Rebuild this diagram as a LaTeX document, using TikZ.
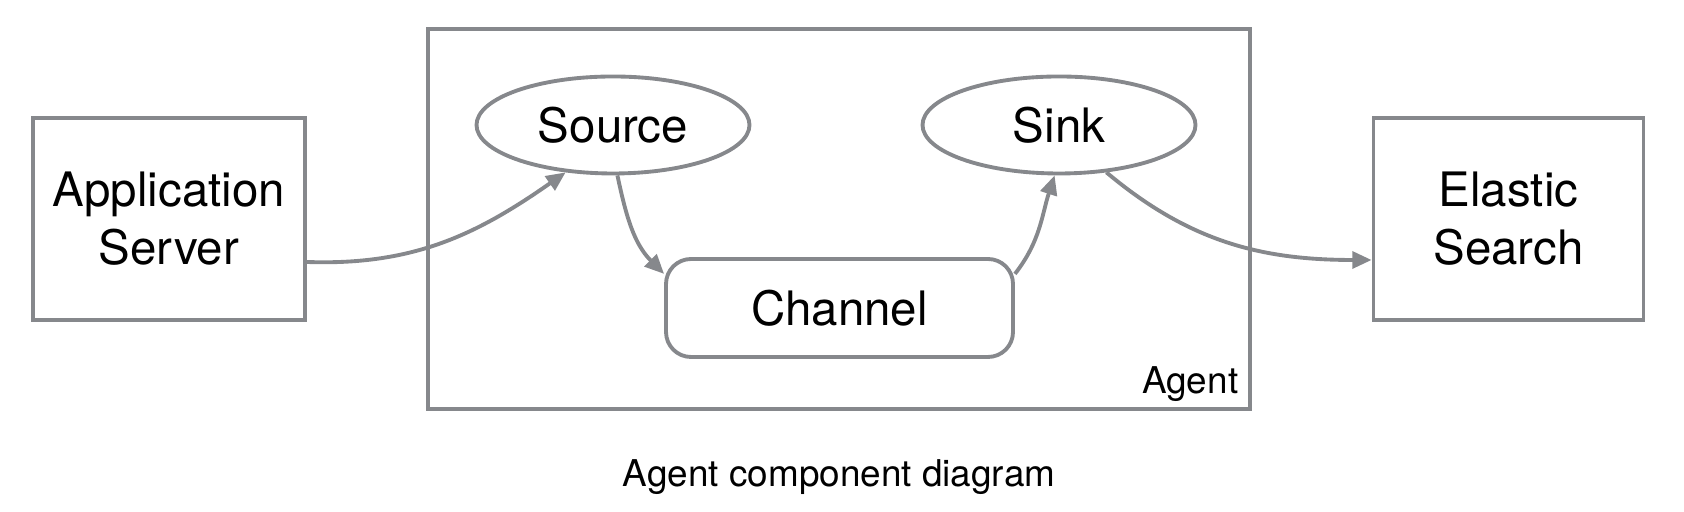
\documentclass[tikz,border=0pt]{standalone}
\usepackage{fontspec}
\setmainfont{TeX Gyre Heros}
\usepackage{tikz}
\usetikzlibrary{arrows.meta,shapes.geometric}
\definecolor{linegray}{RGB}{134,136,140}
\tikzset{
	box/.style={draw=linegray, line width=1.1pt, inner sep=0pt, align=center, font=\fontsize{13.5}{16.5}\selectfont},
	blob/.style={ellipse, draw=linegray, line width=1.1pt, minimum width=2.73cm, minimum height=0.97cm, inner sep=0pt, font=\fontsize{13.5}{16.5}\selectfont},
	flow/.style={draw=linegray, line width=1.1pt, -{Triangle[length=5.5pt,width=4.8pt]}},
	smalltext/.style={inner sep=0pt, font=\fontsize{10.5}{12.5}\selectfont}
}

\begin{document}
\begin{tikzpicture}
		%%%%% START %%%%%
		\useasboundingbox (0, 0) rectangle (16.84, 5.12);
		
		\node[box, minimum width=2.72cm, minimum height=2.02cm] (app) at (1.69, 2.93) {Application\\Server};
		\node[box, minimum width=2.70cm, minimum height=2.02cm] (search) at (15.085, 2.93) {Elastic\\Search};
		
		\node[box, minimum width=8.22cm, minimum height=3.80cm] (agent) at (8.39, 2.93) {};
		\node[smalltext, anchor=base east] (agentname) at ([xshift=-0.13cm, yshift=0.17cm]agent.south east) {Agent};
		
		\node[blob] (source) at (6.13, 3.87) {Source};
		\node[blob] (sink) at (10.59, 3.87) {Sink};
		\node[box, rounded corners=0.25cm, minimum width=3.47cm, minimum height=0.98cm] (channel) at (8.395, 2.04) {Channel};
		
		\draw[flow] ([yshift=-0.43cm]app.east) to[out=-2, in=215] (source.225);
		\draw[flow] (source.-85) to[out=-78, in=135] (channel.169);
		\draw[flow] (channel.11) to[out=52, in=252] (sink.-95);
		\draw[flow] (sink.-45) to[out=-40, in=180] ([yshift=-0.41cm]search.west);
		
		\node[smalltext, anchor=base] (caption) at (8.39, 0.25) {Agent component diagram};
		%%%%% END %%%%%
	\end{tikzpicture}
\end{document}
